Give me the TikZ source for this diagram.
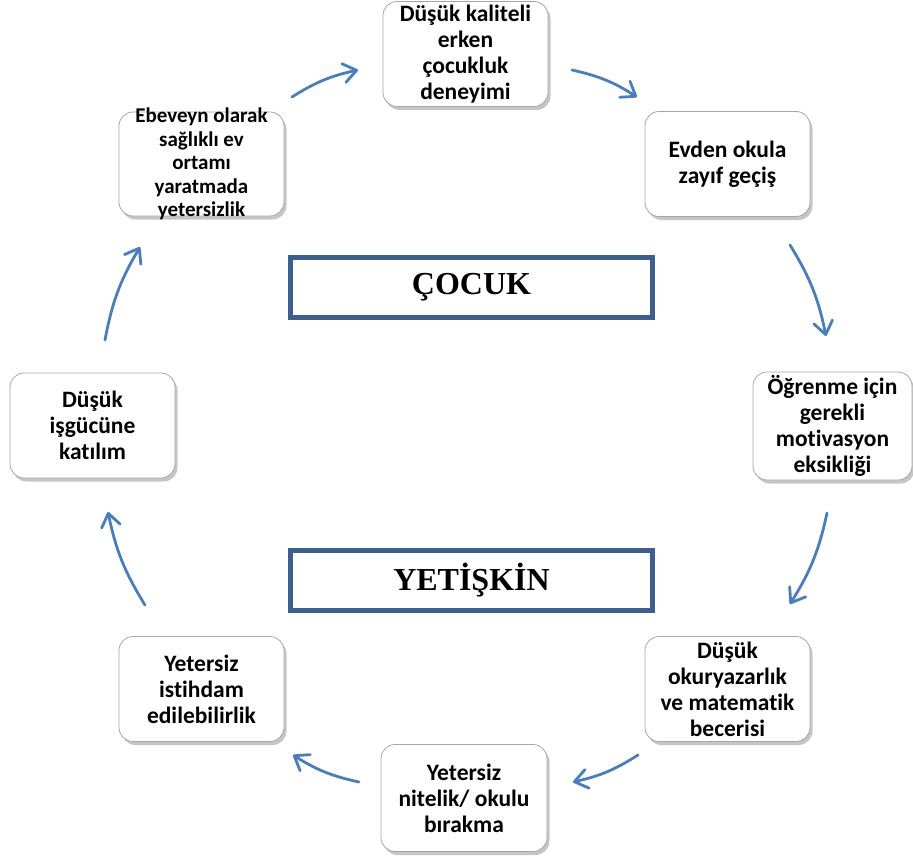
\documentclass[tikz,border=0pt]{standalone}
\usepackage{fontspec}
\setmainfont{Carlito}[Ligatures={NoCommon}]
\newfontfamily\labelserif{Liberation Serif}
\usetikzlibrary{arrows.meta,shadows}
\definecolor{arrowblue}{HTML}{4A7EBB}
\definecolor{frameblue}{HTML}{3C5F8D}
\begin{document}
\begin{tikzpicture}[x=1pt,y=1pt,
  cbox/.style={draw=gray!70, line width=0.8pt, fill=white, rounded corners=14pt,
    drop shadow={shadow xshift=2.5pt, shadow yshift=-3.5pt, opacity=0.45},
    minimum width=165pt, minimum height=105pt, inner sep=0pt},
  ctext/.style={font=\bfseries\fontsize{23.5}{26}\selectfont, align=center, inner sep=0pt},
  stext/.style={font=\bfseries\fontsize{21}{23.5}\selectfont, align=center, inner sep=0pt},
  framebox/.style={draw=frameblue, line width=5pt, fill=white,
    minimum width=362pt, minimum height=60pt, inner sep=0pt,
    font=\labelserif\bfseries\fontsize{32}{36}\selectfont},
  flow/.style={draw=arrowblue, line width=2.8pt, line cap=round,
    -{Straight Barb[length=13pt,width=19pt,round]}, bend left=10}
]
\useasboundingbox (0,0) rectangle (913,-856);

% boxes
\node[cbox] (b1) at (465.5,-54) {};
\node[ctext] (t1) at (b1.center) {Düşük kaliteli\\erken\\çocukluk\\deneyimi};
\node[cbox] (b2) at (727.5,-164) {};
\node[ctext] (t2) at (b2.center) {Evden okula\\zayıf geçiş};
\node[cbox, minimum width=159pt, minimum height=108pt] (b3) at (832.5,-426) {};
\node[ctext] (t3) at (b3.center) {Öğrenme için\\gerekli\\motivasyon\\eksikliği};
\node[cbox] (b4) at (727.5,-689) {};
\node[ctext] (t4) at (b4.center) {Düşük\\okuryazarlık\\ve matematik\\becerisi};
\node[cbox, minimum width=166pt, minimum height=107pt] (b5) at (464,-798) {};
\node[ctext] (t5) at (b5.center) {Yetersiz\\nitelik/ okulu\\bırakma};
\node[cbox] (b6) at (201.5,-689) {};
\node[ctext] (t6) at (b6.center) {Yetersiz\\istihdam\\edilebilirlik};
\node[cbox] (b7) at (92.5,-425.5) {};
\node[ctext] (t7) at (b7.center) {Düşük\\işgücüne\\katılım};
\node[cbox, minimum height=104pt] (b8) at (201.5,-164) {};
\node[stext] (t8) at (b8.center) {Ebeveyn olarak\\sağlıklı ev\\ortamı\\yaratmada\\yetersizlik};

% labels
\node[framebox] (cocuk) at (471.5,-287.5) {ÇOCUK};
\node[framebox] (yetiskin) at (471.5,-580.5) {YETİŞKİN};

% arrow end points
\coordinate (s1) at (292,-97);  \coordinate (e1) at (358,-70);
\coordinate (s2) at (572,-70);  \coordinate (e2) at (637,-97);
\coordinate (s3) at (790,-245); \coordinate (e3) at (826,-336);
\coordinate (s4) at (827,-513); \coordinate (e4) at (790,-604);
\coordinate (s5) at (638,-755); \coordinate (e5) at (573,-782);
\coordinate (s6) at (359,-782); \coordinate (e6) at (293,-755);
\coordinate (s7) at (145,-605); \coordinate (e7) at (108,-512);
\coordinate (s8) at (105,-340); \coordinate (e8) at (140,-247);

\draw[flow] (s1) to (e1);
\draw[flow] (s2) to (e2);
\draw[flow] (s3) to (e3);
\draw[flow] (s4) to (e4);
\draw[flow] (s5) to (e5);
\draw[flow] (s6) to (e6);
\draw[flow] (s7) to (e7);
\draw[flow] (s8) to (e8);
\end{tikzpicture}
\end{document}
